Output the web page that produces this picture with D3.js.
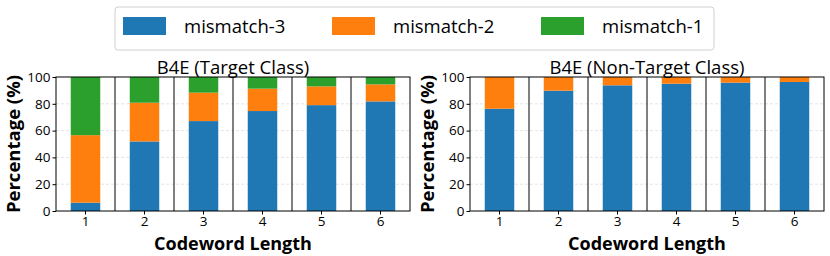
<!DOCTYPE html>
<html>
<head>
<meta charset="utf-8">
<script src="https://cdn.jsdelivr.net/npm/d3@7"></script>
<style>
  body { margin: 0; background: #fff; }
  svg text { font-family: "Open Sans", sans-serif; fill: #000; }
</style>
</head>
<body>
<svg id="chart" width="830" height="256"></svg>
<script>
// data
let lengths = ['1', '2', '3', '4', '5', '6']
let seriesNames = ['mismatch-3', 'mismatch-2', 'mismatch-1']
let colors = ['#1f77b4', '#ff7f0e', '#2ca02c']
let yTicks = [0, 20, 40, 60, 80, 100]

let targetM3 = [6.2, 51.9, 67.1, 74.6, 79, 81.8]
let targetM2 = [50.4, 28.9, 21.2, 16.7, 14, 12.7]
let targetM1 = [43.4, 19.2, 11.7, 8.7, 7, 5.5]

let nonTargetM3 = [76.3, 89.8, 93.8, 95, 95.8, 96.3]
let nonTargetM2 = [23.7, 10.2, 6.2, 5, 4.2, 3.7]
let nonTargetM1 = [0, 0, 0, 0, 0, 0]

let svg = d3.select('#chart')

function drawPanel(x0, x1, title, m3, m2, m1) {
    let rows = lengths.map((l, i) => ({ len: l, 'mismatch-3': m3[i], 'mismatch-2': m2[i], 'mismatch-1': m1[i] }))
    let stack = d3.stack().keys(seriesNames)(rows)

    let x = d3.scaleBand(lengths, [x0, x1])
    let y = d3.scaleLinear([0, 100], [211, 77])
    let g = svg.append('g')

    // grid
    g.selectAll('.grid').data(yTicks.slice(1, -1)).join('line')
        .attr('x1', x0).attr('x2', x1)
        .attr('y1', d => y(d)).attr('y2', d => y(d))
        .attr('stroke', '#ddd').attr('stroke-width', 0.8).attr('stroke-dasharray', '3,2')

    // bars
    stack.forEach((s, k) => {
        g.append('g').attr('fill', colors[k]).selectAll('rect').data(s).join('rect')
            .attr('x', d => x(d.data.len) + x.bandwidth() * 0.25)
            .attr('width', x.bandwidth() * 0.5)
            .attr('y', d => y(d[1]))
            .attr('height', d => y(d[0]) - y(d[1]))
    })

    // separators between groups
    g.selectAll('.sep').data(lengths.slice(1)).join('line')
        .attr('x1', d => x(d)).attr('x2', d => x(d))
        .attr('y1', y(0)).attr('y2', y(100))
        .attr('stroke', '#000').attr('stroke-width', 1)

    // frame
    g.append('rect').attr('x', x0).attr('y', y(100)).attr('width', x1 - x0).attr('height', y(0) - y(100))
        .attr('fill', 'none').attr('stroke', '#000').attr('stroke-width', 1)

    // axes
    let xAxis = d3.axisBottom(x).tickSize(3.5).tickPadding(2).tickSizeOuter(0)
    let yAxis = d3.axisLeft(y).tickValues(yTicks).tickSize(3.5).tickPadding(2).tickSizeOuter(0)
    let xa = g.append('g').attr('transform', 'translate(0,211)').call(xAxis)
    let ya = g.append('g').attr('transform', `translate(${x0},0)`).call(yAxis)
    ;[xa, ya].forEach(a => {
        a.select('.domain').remove()
        a.selectAll('text').style('font-size', '13.5px').attr('fill', '#000')
    })

    // titles
    let cx = (x0 + x1) / 2
    g.append('text').attr('x', cx).attr('y', 74).attr('text-anchor', 'middle')
        .style('font-size', '18.5px').text(title)
    g.append('text').attr('x', cx).attr('y', 249.5).attr('text-anchor', 'middle')
        .style('font-size', '18px').style('font-weight', 'bold').text('Codeword Length')
    g.append('text').attr('transform', `translate(${x0 - 36},144) rotate(-90)`).attr('text-anchor', 'middle')
        .style('font-size', '18.5px').style('font-weight', 'bold').text('Percentage (%)')
}

drawPanel(56, 410, 'B4E (Target Class)', targetM3, targetM2, targetM1)
drawPanel(470, 824, 'B4E (Non-Target Class)', nonTargetM3, nonTargetM2, nonTargetM1)

// legend
let legend = svg.append('g')
legend.append('rect').attr('x', 115).attr('y', 7).attr('width', 599).attr('height', 43)
    .attr('rx', 3).attr('fill', '#fff').attr('stroke', '#d0d0d0').attr('stroke-width', 1)
let lx = d3.scaleOrdinal(seriesNames, [123, 332, 541])
seriesNames.forEach((n, i) => {
    legend.append('rect').attr('x', lx(n)).attr('y', 17).attr('width', 43).attr('height', 18).attr('fill', colors[i])
    legend.append('text').attr('x', lx(n) + 61).attr('y', 33).style('font-size', '18.5px').text(n)
})
</script>
</body>
</html>
